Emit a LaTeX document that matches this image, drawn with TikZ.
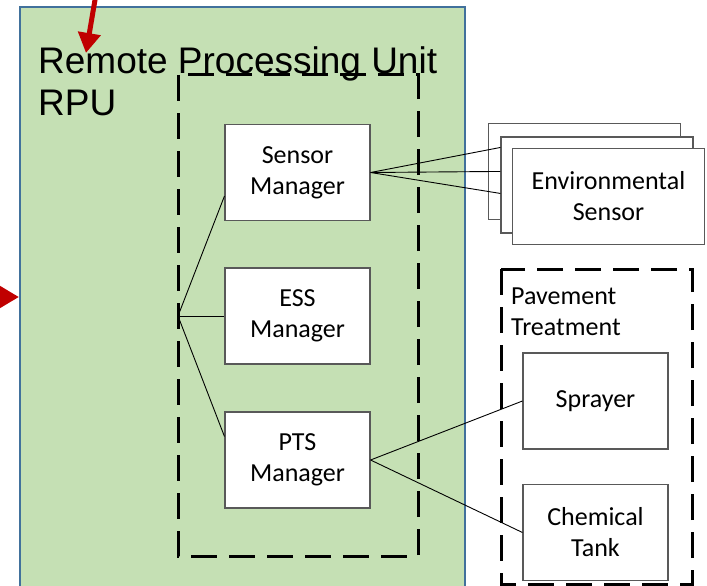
\documentclass[tikz,border=0pt]{standalone}
\usepackage{fontspec}
\setmainfont{Carlito}
\newfontfamily\titlefont{Liberation Sans}
\usetikzlibrary{arrows.meta,calc}
\definecolor{rpugreen}{HTML}{C5E0B4}
\definecolor{rpublue}{HTML}{41719C}
\definecolor{arrowred}{HTML}{C00000}
\definecolor{boxgray}{HTML}{595959}
\begin{document}
\begin{tikzpicture}[x=1pt,y=-1pt,
  unitbox/.style={draw=boxgray, line width=1.1pt, fill=white,
    minimum width=145pt, minimum height=96pt, inner sep=0pt,
    align=center, font=\fontsize{26}{31}\selectfont},
  sensorbox/.style={unitbox, minimum width=192pt, minimum height=96pt},
  groupbox/.style={line width=3pt, dash pattern=on 26pt off 12pt},
  link/.style={line width=0.9pt},
  titletext/.style={anchor=base west, inner sep=0pt,
    font=\titlefont\fontsize{37}{42}\selectfont},
  grouptext/.style={anchor=base west, inner sep=0pt,
    font=\fontsize{26}{31}\selectfont},
  pointer/.style={arrowred, line width=5pt,
    -{Triangle[length=20pt,width=22pt]}}]
\clip (0,0) rectangle (707,586);

% Remote processing unit
\fill[rpugreen, draw=rpublue, line width=2pt] (20,7) rectangle (465,600);
\node[titletext] (title) at (38,74) {Remote Processing Unit};
\node[titletext] (rpu) at (38,115) {RPU};

% software group inside the RPU
\draw[groupbox] (178,75) rectangle (418,556);

% pavement treatment group
\draw[groupbox] (501,269) rectangle (692,584);
\node[grouptext] (pt1) at (511,304) {Pavement};
\node[grouptext] (pt2) at (511,335) {Treatment};

% managers
\node[unitbox] (sm) at (297.5,172.5) {Sensor\\Manager};
\node[unitbox] (ess) at (297.5,316) {ESS\\Manager};
\node[unitbox] (pts) at (297.5,460) {PTS\\Manager};

% stacked environmental sensors
\node[sensorbox] (es1) at (584.5,171.5) {};
\node[sensorbox] (es2) at (597,185) {};
\node[sensorbox] (es3) at (608.5,196.5) {Environmental\\Sensor};

% treatment devices
\node[unitbox] (sp) at (595.5,401) {Sprayer};
\node[unitbox] (ct) at (595.5,532.5) {Chemical\\Tank};

% internal bus
\coordinate (bus) at (178,316);
\draw[link] (bus) -- ($(sm.south west)+(0,-25)$);
\draw[link] (bus) -- (ess.west);
\draw[link] (bus) -- ($(pts.north west)+(0,25)$);

% sensor links
\draw[link] (sm.east) -- ($(es2.north west)+(0,11)$);
\draw[link] (sm.east) -- ($(es2.north west)+(0,35)$);
\draw[link] (sm.east) -- ($(es2.north west)+(0,57)$);

% treatment links
\draw[link] (pts.east) -- (sp.west);
\draw[link] (pts.east) -- (ct.west);

% incoming pointers
\coordinate (ptop) at (96,-6);
\coordinate (ptip) at (86,53);
\draw[pointer] (ptop) -- (ptip);
\coordinate (lfrom) at (-30,297);
\coordinate (lto) at (19,297);
\draw[pointer] (lfrom) -- (lto);
\end{tikzpicture}
\end{document}
